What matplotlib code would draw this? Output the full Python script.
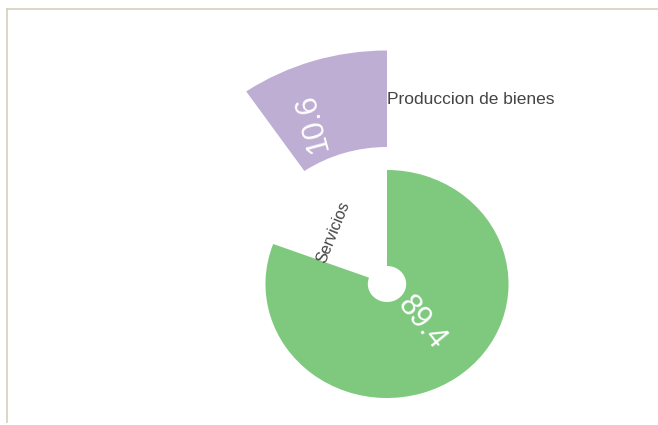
import numpy as np
import matplotlib.pyplot as plt
from matplotlib.lines import Line2D

# data
labels = ['Produccion de bienes', 'Servicios']
values = [10.6, 89.4]
colors = ['#beaed4', '#7fc97f']

plt.rcParams['font.family'] = ['Liberation Sans', 'DejaVu Sans']

fig = plt.figure(figsize=(6.58, 4.25), dpi=100)

# polar axes centred on the donut (radius units are vertical pixels),
# slightly wider than tall like the original
R = 240
sx = 1.066
cx, cy = 387, 284
ax = fig.add_axes([(cx - R * sx) / 658, (425 - cy - R) / 425, 2 * R * sx / 658, 2 * R / 425],
                  projection='polar')
ax.set_aspect('auto')
ax.set_ylim(0, R)
ax.axis('off')

gap = 35  # empty wedge left between the slices
scale = (360 - gap) / sum(values)
w_prod = np.deg2rad(values[0] * scale)
w_serv = np.deg2rad(values[1] * scale)
start = np.pi / 2

# Produccion de bienes: pulled outward, counter-clockwise from 12 o'clock
ax.bar(start + w_prod / 2, 96.5, width=w_prod, bottom=137, color=colors[0], edgecolor='none')
# Servicios: clockwise from 12 o'clock
ax.bar(start - w_serv / 2, 96, width=w_serv, bottom=18, color=colors[1], edgecolor='none')

# value labels
ax.text(np.deg2rad(113.5), 176, f'{values[0]}', rotation=105, rotation_mode='anchor',
        ha='center', va='center', color='white', fontsize=22)
ax.text(np.deg2rad(-50.7), 51, f'{values[1]}', rotation=-51, rotation_mode='anchor',
        ha='center', va='center', color='white', fontsize=22)

# category labels
ax.text(start, 184, labels[0], ha='left', va='center', color='#444444', fontsize=12.5)
ax.text(np.deg2rad(134.3), 72.6, labels[1], rotation=68, rotation_mode='anchor',
        ha='center', va='center', color='#444444', fontsize=11.5)

# frame lines of the panel
fig.add_artist(Line2D([7 / 658, 1], [1 - 9 / 425] * 2, color='#d6cfbf', lw=1.2))
fig.add_artist(Line2D([7 / 658] * 2, [1 - 9 / 425, 1 - 422 / 425], color='#d6cfbf', lw=1.2))

fig.savefig('out.png', dpi=100)
